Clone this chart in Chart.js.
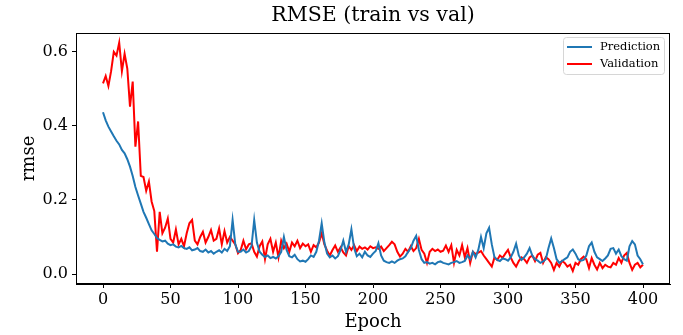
<!DOCTYPE html>
<html>
<head>
<meta charset="utf-8">
<script src="https://cdn.jsdelivr.net/npm/chart.js@4.4.1/dist/chart.umd.min.js"></script>
<style>
  body { margin: 0; background: #fff; }
  #wrap { width: 683px; height: 335px; }
</style>
</head>
<body>
<div id="wrap"><canvas id="rmseChart"></canvas></div>
<script>
// values, one every 2 epochs (0..400)
const EPOCH_STEP = 2;

const prediction = [
  0.437, 0.415, 0.398, 0.385, 0.372, 0.360, 0.350, 0.335, 0.326, 0.310,
  0.290, 0.265, 0.235, 0.212, 0.190, 0.168, 0.152, 0.135, 0.118, 0.108,
  0.097, 0.092, 0.088, 0.090, 0.082, 0.078, 0.080, 0.074, 0.072, 0.076,
  0.070, 0.068, 0.072, 0.064, 0.066, 0.070, 0.062, 0.060, 0.066, 0.058,
  0.062, 0.055, 0.060, 0.064, 0.058, 0.068, 0.062, 0.075, 0.146, 0.080,
  0.060, 0.060, 0.066, 0.058, 0.062, 0.075, 0.146, 0.085, 0.060, 0.052,
  0.046, 0.050, 0.043, 0.046, 0.042, 0.048, 0.060, 0.100, 0.065, 0.048,
  0.045, 0.052, 0.040, 0.034, 0.036, 0.033, 0.040, 0.050, 0.046, 0.060,
  0.090, 0.137, 0.085, 0.055, 0.045, 0.050, 0.042, 0.048, 0.065, 0.090,
  0.060, 0.080, 0.121, 0.070, 0.048, 0.055, 0.045, 0.060, 0.050, 0.046,
  0.055, 0.062, 0.083, 0.050, 0.036, 0.032, 0.030, 0.034, 0.030, 0.036,
  0.040, 0.042, 0.048, 0.060, 0.070, 0.090, 0.103, 0.065, 0.040, 0.030,
  0.032, 0.028, 0.030, 0.026, 0.032, 0.034, 0.030, 0.028, 0.026, 0.030,
  0.032, 0.035, 0.030, 0.032, 0.035, 0.050, 0.040, 0.060, 0.045, 0.065,
  0.100, 0.070, 0.110, 0.125, 0.080, 0.045, 0.038, 0.035, 0.042, 0.040,
  0.036, 0.045, 0.060, 0.082, 0.050, 0.038, 0.045, 0.055, 0.070, 0.050,
  0.040, 0.036, 0.030, 0.034, 0.040, 0.070, 0.096, 0.070, 0.040, 0.030,
  0.035, 0.040, 0.045, 0.060, 0.066, 0.055, 0.040, 0.036, 0.038, 0.050,
  0.075, 0.085, 0.060, 0.045, 0.040, 0.035, 0.042, 0.050, 0.068, 0.070,
  0.055, 0.066, 0.048, 0.040, 0.036, 0.075, 0.089, 0.080, 0.050, 0.040,
  0.026
];

const validation = [
  0.515, 0.535, 0.508, 0.548, 0.600, 0.590, 0.625, 0.548, 0.595, 0.555,
  0.452, 0.520, 0.344, 0.412, 0.265, 0.262, 0.225, 0.250, 0.196, 0.170,
  0.060, 0.168, 0.110, 0.125, 0.150, 0.095, 0.085, 0.120, 0.080, 0.095,
  0.075, 0.110, 0.137, 0.146, 0.090, 0.080, 0.100, 0.114, 0.085, 0.100,
  0.119, 0.090, 0.095, 0.123, 0.080, 0.116, 0.085, 0.100, 0.090, 0.080,
  0.056, 0.065, 0.090, 0.067, 0.080, 0.083, 0.060, 0.047, 0.075, 0.088,
  0.040, 0.080, 0.095, 0.060, 0.085, 0.045, 0.090, 0.070, 0.082, 0.060,
  0.085, 0.075, 0.090, 0.070, 0.082, 0.075, 0.080, 0.060, 0.078, 0.072,
  0.085, 0.110, 0.080, 0.063, 0.050, 0.065, 0.077, 0.060, 0.072, 0.058,
  0.050, 0.075, 0.065, 0.078, 0.062, 0.074, 0.068, 0.072, 0.066, 0.075,
  0.070, 0.072, 0.068, 0.074, 0.062, 0.070, 0.078, 0.087, 0.080, 0.060,
  0.047, 0.055, 0.068, 0.060, 0.075, 0.062, 0.070, 0.095, 0.065, 0.055,
  0.030, 0.060, 0.068, 0.062, 0.066, 0.060, 0.063, 0.077, 0.060, 0.078,
  0.030, 0.065, 0.050, 0.078, 0.045, 0.070, 0.030, 0.060, 0.054, 0.058,
  0.062, 0.050, 0.040, 0.030, 0.020, 0.045, 0.038, 0.050, 0.044, 0.055,
  0.065, 0.045, 0.030, 0.020, 0.035, 0.045, 0.040, 0.030, 0.045, 0.050,
  0.035, 0.052, 0.057, 0.030, 0.045, 0.040, 0.030, 0.011, 0.030, 0.020,
  0.035, 0.030, 0.020, 0.025, 0.008, 0.030, 0.025, 0.040, 0.047, 0.040,
  0.016, 0.043, 0.025, 0.012, 0.030, 0.016, 0.025, 0.020, 0.018, 0.030,
  0.025, 0.043, 0.030, 0.050, 0.057, 0.030, 0.011, 0.025, 0.030, 0.018,
  0.025
];

const xTicks = [0, 50, 100, 150, 200, 250, 300, 350, 400];
const yTicks = [0.0, 0.2, 0.4, 0.6];

const FONT = "'DejaVu Serif', serif";

function toPoints(values) {
  return values.map((v, i) => ({ x: i * EPOCH_STEP, y: v }));
}

// frame, title, axis labels and the in-plot legend, drawn the matplotlib way
const decorations = {
  id: 'decorations',
  afterDatasetsDraw(chart) {
    const { ctx, chartArea: a } = chart;
    ctx.save();
    ctx.strokeStyle = '#000';
    ctx.lineWidth = 1;
    ctx.strokeRect(a.left + 0.5, a.top + 0.5, a.right - a.left - 1, a.bottom - a.top - 1);

    ctx.fillStyle = '#000';
    ctx.textAlign = 'center';
    ctx.textBaseline = 'middle';
    ctx.font = '20.5px ' + FONT;
    ctx.fillText('RMSE (train vs val)', (a.left + a.right) / 2, 16);

    ctx.font = '18px ' + FONT;
    ctx.fillText('Epoch', (a.left + a.right) / 2, 322);

    ctx.translate(29, (a.top + a.bottom) / 2);
    ctx.rotate(-Math.PI / 2);
    ctx.fillText('rmse', 0, 0);
    ctx.restore();

    // legend box
    const boxW = 101, boxH = 37;
    const bx = a.right - 6 - boxW, by = a.top + 4;
    ctx.save();
    ctx.beginPath();
    ctx.roundRect(bx + 0.5, by + 0.5, boxW, boxH, 3);
    ctx.fillStyle = 'rgba(255,255,255,0.8)';
    ctx.fill();
    ctx.strokeStyle = '#d6d6d6';
    ctx.lineWidth = 1;
    ctx.stroke();
    ctx.font = '11.5px ' + FONT;
    ctx.textAlign = 'left';
    ctx.textBaseline = 'middle';
    chart.data.datasets.forEach((ds, i) => {
      const y = by + 10 + i * 17;
      ctx.strokeStyle = ds.borderColor;
      ctx.lineWidth = 2;
      ctx.beginPath();
      ctx.moveTo(bx + 4, y);
      ctx.lineTo(bx + 29, y);
      ctx.stroke();
      ctx.fillStyle = '#000';
      ctx.fillText(ds.label, bx + 37, y);
    });
    ctx.restore();
  }
};

new Chart(document.getElementById('rmseChart'), {
  type: 'line',
  data: {
    datasets: [
      {
        label: 'Prediction',
        data: toPoints(prediction),
        borderColor: '#1f77b4',
        borderWidth: 2,
        pointRadius: 0,
        tension: 0
      },
      {
        label: 'Validation',
        data: toPoints(validation),
        borderColor: '#ff0000',
        borderWidth: 2,
        pointRadius: 0,
        tension: 0
      }
    ]
  },
  options: {
    responsive: true,
    maintainAspectRatio: false,
    animation: false,
    layout: { padding: { left: 0, top: 33, right: 13, bottom: 0 } },
    plugins: {
      legend: { display: false },
      title: { display: false },
      tooltip: { enabled: false }
    },
    scales: {
      x: {
        type: 'linear',
        min: -20,
        max: 420,
        afterBuildTicks: s => { s.ticks = xTicks.map(v => ({ value: v })); },
        afterFit: s => { s.height = 51; },
        grid: { drawOnChartArea: false, drawTicks: true, tickLength: 4, color: '#000' },
        border: { display: true, color: '#000' },
        ticks: {
          color: '#000',
          font: { family: FONT, size: 16 },
          padding: 2,
          maxRotation: 0,
          callback: v => String(v)
        }
      },
      y: {
        min: -0.027,
        max: 0.651,
        afterBuildTicks: s => { s.ticks = yTicks.map(v => ({ value: v })); },
        afterFit: s => { s.width = 76; },
        grid: { drawOnChartArea: false, drawTicks: true, tickLength: 4, color: '#000' },
        border: { display: true, color: '#000' },
        ticks: {
          color: '#000',
          font: { family: FONT, size: 16 },
          padding: 4,
          callback: v => v.toFixed(1)
        }
      }
    }
  },
  plugins: [decorations]
});
</script>
</body>
</html>
